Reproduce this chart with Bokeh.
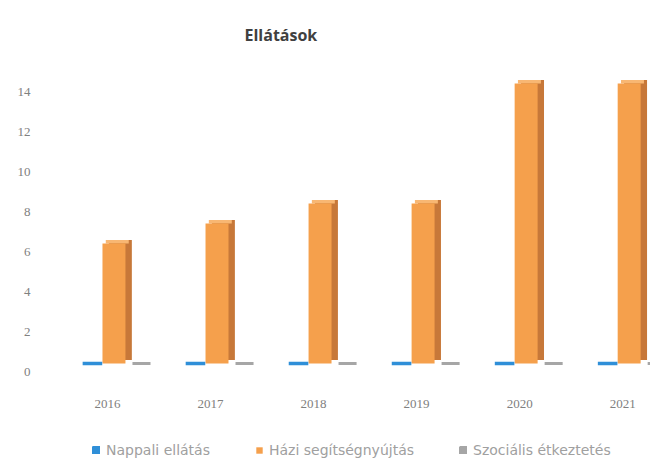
from bokeh.plotting import figure
from bokeh.models import ColumnDataSource, Range1d, Legend, LegendItem, FixedTicker, LinearAxis
from bokeh.transform import dodge
from bokeh.embed import file_html
from bokeh.resources import INLINE

years = [2016, 2017, 2018, 2019, 2020, 2021]
nappali = [0, 0, 0, 0, 0, 0]
hazi = [6, 7, 8, 8, 14, 14]
szocialis = [0, 0, 0, 0, 0, 0]
series_names = ["Nappali ellátás", "Házi segítségnyújtás", "Szociális étkeztetés"]
y_ticks = [0, 2, 4, 6, 8, 10, 12, 14]

src = ColumnDataSource(dict(x=years, nappali=nappali, hazi=hazi, szoc=szocialis,
                            base=[0] * len(years)))

Y0, Y1 = -4.75, 14.8
p = figure(width=650, height=458, output_backend="svg", toolbar_location=None,
           x_range=Range1d(2015.515, 2021.27), y_range=Range1d(Y0, Y1),
           y_axis_location=None, x_axis_location=None,
           min_border_left=57, min_border_right=0, min_border_top=67, min_border_bottom=0)
p.outline_line_color = None
p.xgrid.grid_line_color = None
p.ygrid.grid_line_color = None

# labels of the value axis sit slightly below the 3D floor of the bars
p.extra_y_ranges = {"lab": Range1d(Y0 + 0.4, Y1 + 0.4)}
yax = LinearAxis(y_range_name="lab", ticker=FixedTicker(ticks=y_ticks))
p.add_layout(yax, "left")
xax = LinearAxis(ticker=FixedTicker(ticks=years), fixed_location=0)
p.add_layout(xax, "below")

p.title.text = "Ellátások"
p.title.align = "left"
p.title.offset = 187
p.title.standoff = 43
p.title.text_font = "Open Sans"
p.title.text_font_size = "16px"
p.title.text_font_style = "bold"
p.title.text_color = "#404040"

W = 0.223
# 3D depth of orange bars (side + top face)
p.vbar(x=dodge("x", 0.125, range=p.x_range), top=dodge("hazi", 0.18, range=p.y_range),
       bottom=dodge("base", 0.18, range=p.y_range), width=W, source=src,
       fill_color="#c77839", line_color=None)
p.vbar(x=dodge("x", 0.095, range=p.x_range), top=dodge("hazi", 0.18, range=p.y_range),
       bottom=dodge("hazi", 0.0, range=p.y_range), width=W, source=src,
       fill_color="#f8b773", line_color=None)
r_hazi = p.vbar(x=dodge("x", 0.063, range=p.x_range), top="hazi", bottom="base", width=W,
                source=src, fill_color="#f5a04c", line_color=None)
r_napp = p.vbar(x=dodge("x", -0.146, range=p.x_range), top="nappali", bottom="nappali",
                width=0.19, source=src, fill_color="#2f8fd8", line_color="#2f8fd8",
                line_width=3.5)
r_szoc = p.vbar(x=dodge("x", 0.33, range=p.x_range), top="szoc", bottom="szoc",
                width=0.175, source=src, fill_color="#a6a6a6", line_color="#a6a6a6",
                line_width=3)

for ax in (xax, yax):
    ax.axis_line_color = None
    ax.major_tick_line_color = None
    ax.minor_tick_line_color = None
    ax.major_label_text_font = "Liberation Serif"
    ax.major_label_text_font_size = "13px"
    ax.major_label_text_color = "#808080"
xax.major_label_standoff = 30
yax.major_label_standoff = 21

legend = Legend(items=[LegendItem(label=series_names[0], renderers=[r_napp]),
                       LegendItem(label=series_names[1], renderers=[r_hazi]),
                       LegendItem(label=series_names[2], renderers=[r_szoc])],
                orientation="horizontal", location=(35, 0), padding=1,
                glyph_width=8, glyph_height=8, spacing=45, label_standoff=6,
                label_text_font="DejaVu Sans", label_text_font_size="14px",
                label_text_color="#a0a0a0", border_line_color=None,
                background_fill_alpha=0)
p.add_layout(legend, "center")

open("out.html", "w").write(file_html(p, INLINE))
